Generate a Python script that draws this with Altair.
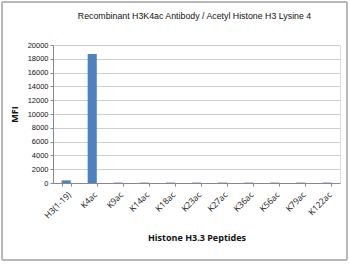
import altair as alt
import pandas as pd

peptides = ["H3(1-19)", "K4ac", "K9ac", "K14ac", "K18ac", "K23ac", "K27ac", "K36ac", "K56ac", "K79ac", "K122ac"]
mfi = [380, 18700, 60, 60, 60, 60, 60, 60, 60, 60, 60]

df = pd.DataFrame({"peptide": peptides, "mfi": mfi})

FONT = "Liberation Sans"

bars = alt.Chart(df).mark_bar(color="#4F81BD").encode(
    x=alt.X("peptide:N", sort=peptides,
            scale=alt.Scale(paddingInner=0.65, paddingOuter=0.33),
            axis=alt.Axis(title="Histone H3.3 Peptides", labelAngle=-45,
                          labelFontSize=8.5, labelColor="#111", labelFont="Open Sans",
                          labelAlign="right", labelBaseline="top", labelPadding=4,
                          tickBand="extent", tickSize=3, tickColor="#888",
                          domainColor="#888", titleFontSize=9, titleFont="Open Sans",
                          titleFontWeight="bold", titleColor="#111", titlePadding=14,
                          grid=False)),
    y=alt.Y("mfi:Q", scale=alt.Scale(domain=[0, 20000]),
            axis=alt.Axis(title="MFI", values=list(range(0, 20001, 2000)), format="d",
                          labelFontSize=7.5, labelColor="#111", labelFont=FONT,
                          tickSize=3, tickColor="#888", domainColor="#888",
                          labelPadding=2, gridColor="#cfcfcf",
                          titleFontSize=9, titleFont="Open Sans", titleFontWeight="bold",
                          titleColor="#111", titlePadding=8)),
)

border = alt.Chart(df).mark_rect(fill=None, stroke="#b8b8b8", strokeWidth=1).encode(
    x=alt.value(-51), x2=alt.value(294), y=alt.value(-43), y2=alt.value(215)
)

chart = alt.layer(border, bars).properties(
    width=287, height=138,
    title=alt.TitleParams("Recombinant H3K4ac Antibody / Acetyl Histone H3 Lysine 4",
                          fontSize=8.8, font=FONT, fontWeight="normal", color="#111",
                          offset=-19, dx=-2),
    autosize=alt.AutoSizeParams(type="none"),
    padding={"left": 53, "top": 45, "right": 10, "bottom": 81},
).configure_view(stroke=None).configure(background="white")

chart.save("out.html", embed_options={"renderer": "svg", "actions": False})
